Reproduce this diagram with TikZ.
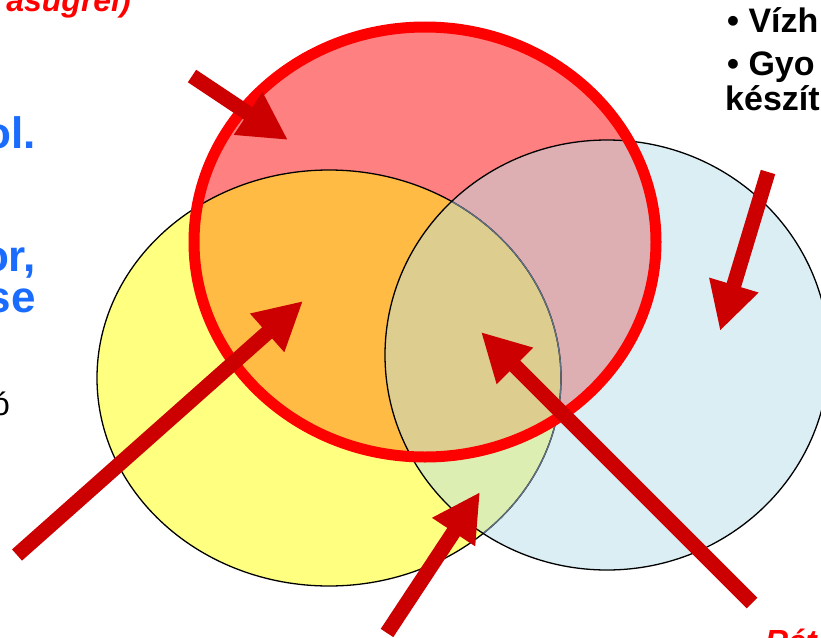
\documentclass[tikz,border=0pt]{standalone}
\usepackage{fontspec}
\setmainfont{Liberation Sans}
\usetikzlibrary{arrows.meta}
\definecolor{yel}{HTML}{FFFF80}
\definecolor{blu}{HTML}{DAEEF3}
\definecolor{yb}{HTML}{DCEEB2}
\definecolor{ro}{HTML}{FF8080}
\definecolor{ry}{HTML}{FFBB44}
\definecolor{rb}{HTML}{DDAFB2}
\definecolor{ryb}{HTML}{DDCD8F}
\definecolor{arrowred}{HTML}{CC0000}
\definecolor{txtblue}{HTML}{1A6CFF}
\definecolor{edgegray}{HTML}{607080}
\begin{document}
\begin{tikzpicture}[x=1pt,y=-1pt,
  bigarrow/.style={draw=arrowred, fill=arrowred, line width=15pt, -{Triangle[length=48pt,width=48pt]}},
  outline/.style={draw=black, line width=1.3pt},
  bluetext/.style={text=txtblue, font=\bfseries\fontsize{44}{48}\selectfont, inner sep=0pt},
  blacktext/.style={text=black, font=\bfseries\fontsize{34}{38}\selectfont, inner sep=0pt},
  redtext/.style={text=red, font=\bfseries\itshape\fontsize{32}{36}\selectfont, inner sep=0pt}]
\useasboundingbox (0,0) rectangle (821,637);
\fill[white] (0,0) rectangle (821,637);
% base ellipses
\fill[yel] (329,378) ellipse [x radius=232pt, y radius=208pt];
\fill[blu] (607,355) ellipse [x radius=222pt, y radius=215pt];
\begin{scope}
  \clip (329,378) ellipse [x radius=232pt, y radius=208pt];
  \fill[yb] (607,355) ellipse [x radius=222pt, y radius=215pt];
\end{scope}
% red circle region
\begin{scope}
  \clip (425,242) ellipse [x radius=231pt, y radius=215pt];
  \fill[ro] (425,242) ellipse [x radius=231pt, y radius=215pt];
  \begin{scope}
    \clip (607,355) ellipse [x radius=222pt, y radius=215pt];
    \fill[rb] (425,242) ellipse [x radius=231pt, y radius=215pt];
  \end{scope}
  \begin{scope}
    \clip (329,378) ellipse [x radius=232pt, y radius=208pt];
    \fill[ry] (425,242) ellipse [x radius=231pt, y radius=215pt];
    \clip (607,355) ellipse [x radius=222pt, y radius=215pt];
    \fill[ryb] (425,242) ellipse [x radius=231pt, y radius=215pt];
  \end{scope}
\end{scope}
% outlines
\draw[outline] (329,378) ellipse [x radius=232pt, y radius=208pt];
\begin{scope}
  \clip (607,355) ellipse [x radius=222pt, y radius=215pt];
  \draw[outline, draw=edgegray] (329,378) ellipse [x radius=232pt, y radius=208pt];
\end{scope}
\draw[outline] (607,355) ellipse [x radius=222pt, y radius=215pt];
\draw[draw=red, line width=11pt] (425,242) ellipse [x radius=231pt, y radius=215pt];
% arrows
\coordinate (a1s) at (192,76);   \coordinate (a1e) at (288,140);
\coordinate (a2s) at (17,555);   \coordinate (a2e) at (303,301);
\coordinate (a3s) at (387,633);  \coordinate (a3e) at (480,492);
\coordinate (a4s) at (752,603);  \coordinate (a4e) at (481,332);
\coordinate (a5s) at (768,172);  \coordinate (a5e) at (720,331);
\draw[bigarrow] (a1s) -- (a1e);
\draw[bigarrow] (a2s) -- (a2e);
\draw[bigarrow] (a3s) -- (a3e);
\draw[bigarrow] (a4s) -- (a4e);
\draw[bigarrow] (a5s) -- (a5e);
% texts
\node[redtext, anchor=base east] (t1) at (131,12) {asugrel)};
\node[bluetext, anchor=base east] (t2) at (36,148) {ol.};
\node[bluetext, anchor=base east] (t3) at (36,271) {or,};
\node[bluetext, anchor=base east] (t4) at (36,312) {se};
\node[text=black, font=\fontsize{32}{36}\selectfont, inner sep=0pt, anchor=base east] (t5) at (10,415) {ó};
\node[blacktext, anchor=base west] (t6) at (727,32) {• Vízh};
\node[blacktext, anchor=base west] (t7) at (727,75) {• Gyo};
\node[blacktext, anchor=base west] (t8) at (725,110) {készít};
\node[redtext, anchor=base west] (t9) at (765,652) {Rét};
\end{tikzpicture}
\end{document}
